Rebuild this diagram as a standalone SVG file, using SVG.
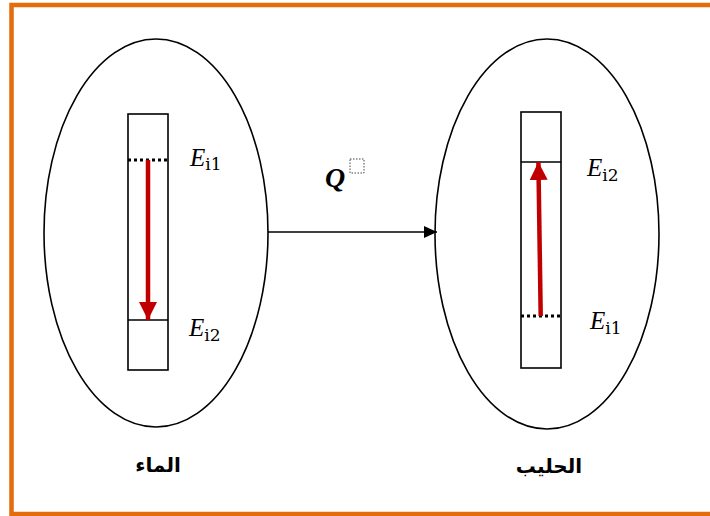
<svg xmlns="http://www.w3.org/2000/svg" width="710" height="516" viewBox="0 0 710 516">
<style>
.ell{fill:none;stroke:#000;stroke-width:1.6}
.bar{fill:#fff;stroke:#000;stroke-width:1.6}
.lvl{stroke:#000;stroke-width:1.6}
.dot{stroke:#000;stroke-width:3;stroke-dasharray:3 3}
.red{stroke:#C00000;stroke-width:4.5;fill:none}
.E{font-family:"Liberation Serif","DejaVu Serif",serif;font-style:italic;font-size:25px}
.sub{font-family:"DejaVu Serif","Liberation Serif",serif;font-size:17px;font-style:normal}
.ar{font-family:"DejaVu Sans",sans-serif;font-weight:bold;font-size:20px}
</style>
<defs>
<marker id="redhead" markerWidth="4" markerHeight="4" refX="4" refY="2" orient="auto" markerUnits="strokeWidth" viewBox="0 0 4 4">
<path d="M0,0 L4,2 L0,4 z" fill="#C00000"/>
</marker>
<marker id="blackhead" markerWidth="13" markerHeight="12" refX="13" refY="6" orient="auto" markerUnits="userSpaceOnUse" viewBox="0 0 13 12">
<path d="M0,0 L13,6 L0,12 z" fill="#000"/>
</marker>
</defs>
<rect x="11.5" y="5" width="710" height="509" fill="#fff" stroke="#E46C0A" stroke-width="4.5"/>

<g id="water">
<ellipse class="ell" cx="156" cy="233" rx="112" ry="194"/>
<rect class="bar" x="128" y="114" width="40" height="256"/>
<line class="lvl" x1="128" y1="320" x2="168" y2="320"/>
<line class="dot" x1="128" y1="160" x2="168" y2="160"/>
<line class="red" x1="148" y1="160" x2="148" y2="320" marker-end="url(#redhead)"/>
<text class="E" x="190" y="166">E<tspan class="sub" dy="4">i1</tspan></text>
<text class="E" x="189" y="336">E<tspan class="sub" dy="5">i2</tspan></text>
<text class="ar" x="158" y="472" text-anchor="middle" direction="rtl">الماء</text>
</g>

<g id="milk">
<ellipse class="ell" cx="547" cy="234" rx="112" ry="195"/>
<rect class="bar" x="521" y="112" width="40" height="256"/>
<line class="lvl" x1="521" y1="162" x2="561" y2="162"/>
<line class="dot" x1="521" y1="316" x2="561" y2="316"/>
<line class="red" x1="540.7" y1="316" x2="538.4" y2="162" marker-end="url(#redhead)"/>
<text class="E" x="587" y="176">E<tspan class="sub" dy="5">i2</tspan></text>
<text class="E" x="590" y="329">E<tspan class="sub" dy="5">i1</tspan></text>
<text class="ar" x="549" y="473" text-anchor="middle" direction="rtl">الحليب</text>
</g>

<g id="connectors">
<line x1="268" y1="232" x2="437" y2="232" stroke="#000" stroke-width="1.6" marker-end="url(#blackhead)"/>
<text x="325" y="187" font-family="Liberation Serif,serif" font-weight="bold" font-style="italic" font-size="28">Q</text>
<rect x="350" y="159" width="14" height="14" fill="none" stroke="#444" stroke-width="1" stroke-dasharray="1.5 1.5"/>
</g>
</svg>
